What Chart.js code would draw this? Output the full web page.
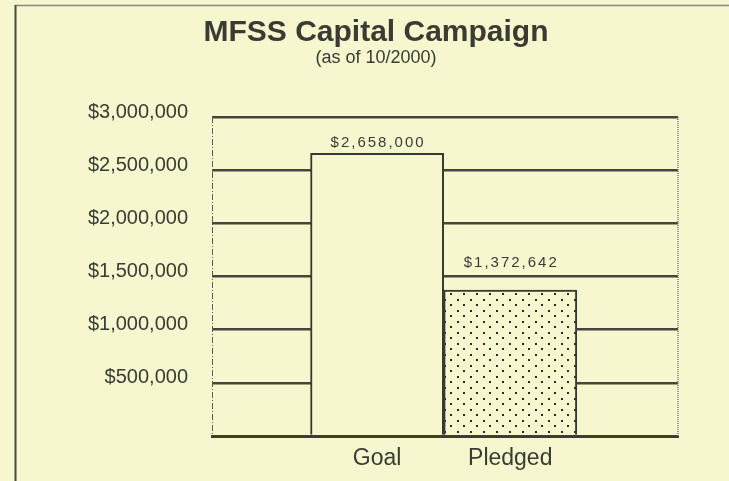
<!DOCTYPE html>
<html><head><meta charset="utf-8">
<script src="https://cdn.jsdelivr.net/npm/chart.js@4"></script>
<style>html,body{margin:0;padding:0;background:#f6f6cf;overflow:hidden}</style>
</head><body>
<canvas id="c" width="729" height="481"></canvas>
<script>
const categories = ['Goal', 'Pledged'];
const amounts = [2658000, 1372642];
const yTickValues = [0, 500000, 1000000, 1500000, 2000000, 2500000, 3000000];
const titleText = 'MFSS Capital Campaign';
const subtitleText = '(as of 10/2000)';

const BG = '#f6f6cf';
const INK = '#3b3b33';
const FAMILY = "'Liberation Sans', Arial, Helvetica, sans-serif";

function money(v) { return '$' + Math.round(v).toLocaleString('en-US'); }

function dotPattern() {
  const t = document.createElement('canvas');
  t.width = 13; t.height = 11;
  const g = t.getContext('2d');
  g.fillStyle = BG; g.fillRect(0, 0, 13, 11);
  g.fillStyle = '#2a2a24';
  g.fillRect(2, 2, 2, 2);
  g.fillRect(8, 7, 2, 2);
  return document.getElementById('c').getContext('2d').createPattern(t, 'repeat');
}

const bgPlugin = {
  id: 'bg',
  beforeDraw(chart) {
    const ctx = chart.ctx;
    ctx.save(); ctx.fillStyle = BG; ctx.fillRect(0, 0, chart.width, chart.height); ctx.restore();
  },
  afterDraw(chart) {
    const ctx = chart.ctx;
    ctx.save();
    ctx.strokeStyle = '#8c8c82'; ctx.lineWidth = 1.5;
    ctx.beginPath(); ctx.moveTo(15, 5.5); ctx.lineTo(chart.width, 5.5); ctx.stroke();
    ctx.strokeStyle = '#4a4a42'; ctx.lineWidth = 2;
    ctx.beginPath(); ctx.moveTo(15.5, 5); ctx.lineTo(15.5, chart.height); ctx.stroke();
    ctx.restore();
  }
};

const frameEdges = {
  id: 'frameEdges',
  beforeDatasetsDraw(chart) {
    const a = chart.chartArea, ctx = chart.ctx;
    ctx.save();
    ctx.strokeStyle = '#77776e'; ctx.lineWidth = 1.5; ctx.setLineDash([1, 1]);
    ctx.beginPath(); ctx.moveTo(a.right, a.top); ctx.lineTo(a.right, a.bottom); ctx.stroke();
    ctx.strokeStyle = '#5a5a52'; ctx.lineWidth = 1; ctx.setLineDash([6, 2, 1, 2]);
    ctx.beginPath(); ctx.moveTo(a.left + 0.5, a.top); ctx.lineTo(a.left + 0.5, a.bottom); ctx.stroke();
    ctx.restore();
  }
};

const barValues = {
  id: 'barValues',
  afterDatasetsDraw(chart, args, opts) {
    const ctx = chart.ctx;
    const meta = chart.getDatasetMeta(0);
    ctx.save();
    ctx.font = '15px ' + FAMILY;
    ctx.fillStyle = INK;
    ctx.textAlign = 'center';
    ctx.textBaseline = 'middle';
    try { ctx.letterSpacing = '2px'; } catch (e) {}
    meta.data.forEach((bar, i) => {
      const lift = (opts.lift && opts.lift[i]) || 10;
      ctx.fillText(money(amounts[i]), bar.x + 1, bar.y - lift);
    });
    ctx.restore();
  }
};

new Chart(document.getElementById('c'), {
  type: 'bar',
  data: {
    datasets: [{
      data: amounts.map((v, i) => ({ x: i + 1, y: v })),
      backgroundColor: [BG, dotPattern()],
      borderColor: '#3a3a32',
      borderWidth: 2,
      borderSkipped: 'bottom',
      barPercentage: 1,
      categoryPercentage: 1
    }]
  },
  options: {
    responsive: false,
    animation: false,
    devicePixelRatio: 1,
    layout: { padding: { left: 23, right: 0, top: 0, bottom: 0 } },
    plugins: {
      legend: { display: false },
      tooltip: { enabled: false },
      title: {
        display: true, text: titleText, color: INK,
        font: { family: FAMILY, size: 30, weight: 'bold', lineHeight: 1 },
        padding: { top: 18, bottom: 0 }
      },
      subtitle: {
        display: true, text: subtitleText, color: INK,
        font: { family: FAMILY, size: 18, lineHeight: 1 },
        padding: { top: 1.5, bottom: 49.5 }
      },
      barValues: { lift: [11, 27] }
    },
    scales: {
      x: {
        type: 'linear',
        offset: false,
        min: -0.24, max: 3.26,
        afterBuildTicks(scale) { scale.ticks = categories.map((c, i) => ({ value: i + 1 })); },
        afterFit(scale) { scale.height = 45; },
        grid: { display: false, offset: false },
        border: { display: true, color: '#3d3d35', width: 3 },
        ticks: {
          color: INK, padding: 1,
          font: { family: FAMILY, size: 23 },
          callback: (v) => categories[v - 1] || ''
        }
      },
      y: {
        min: 0, max: 3000000,
        afterBuildTicks(scale) { scale.ticks = yTickValues.map(v => ({ value: v })); },
        afterFit(scale) { scale.width = 189; },
        grid: {
          drawTicks: false,
          lineWidth: 2.5,
          color: (c) => (c.tick && c.tick.value === 0) ? 'rgba(0,0,0,0)' : '#45453c'
        },
        border: { display: false },
        ticks: {
          color: INK, padding: 24, labelOffset: -5,
          font: { family: FAMILY, size: 20 },
          callback: (v) => v === 0 ? '' : money(v)
        }
      },
      pad: {
        type: 'linear', position: 'right', display: true,
        afterFit(scale) { scale.width = 51; },
        grid: { display: false, drawOnChartArea: false },
        border: { display: false },
        ticks: { display: false }
      }
    }
  },
  plugins: [bgPlugin, frameEdges, barValues]
});
</script>
</body></html>
